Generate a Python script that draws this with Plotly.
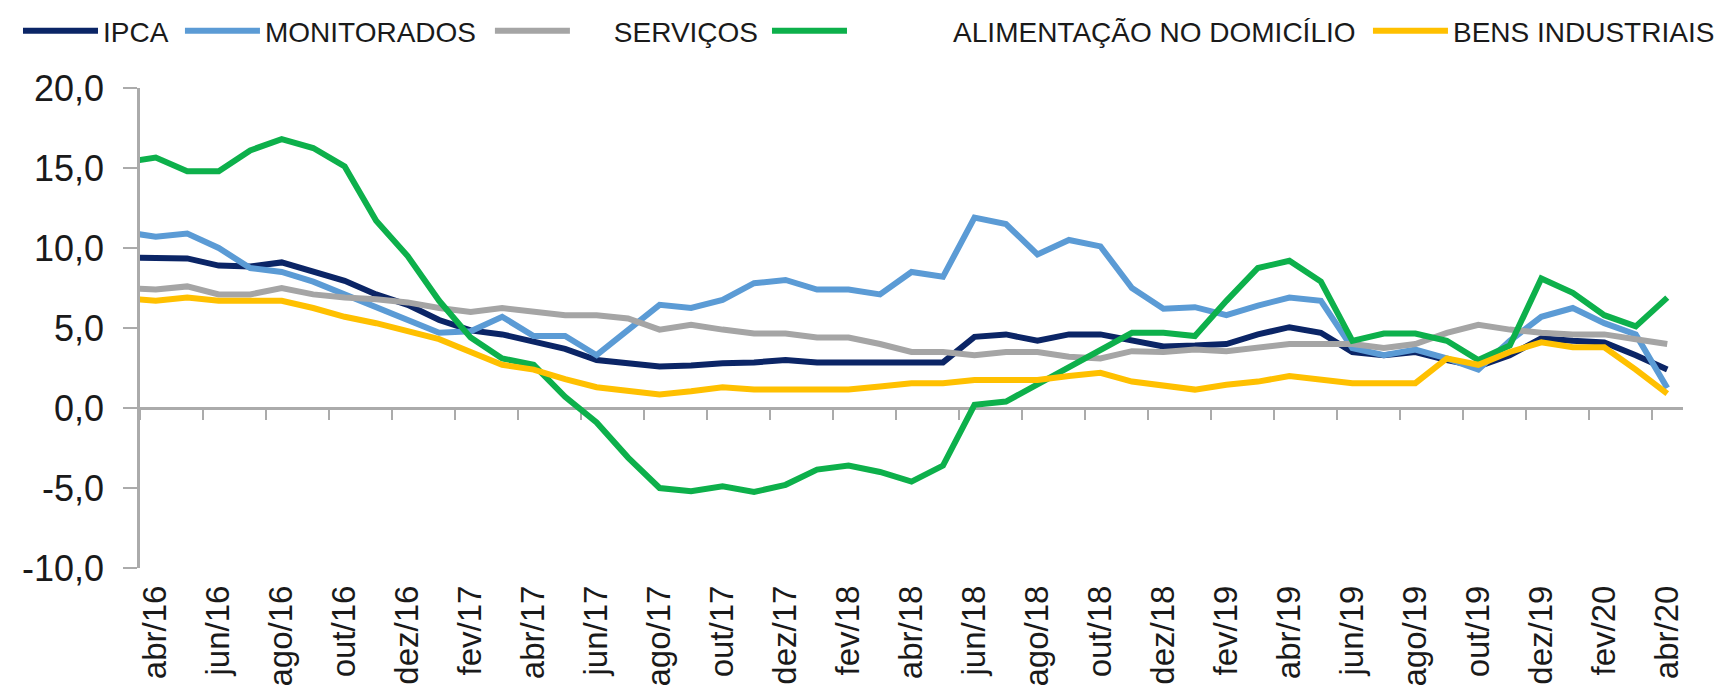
import plotly.graph_objects as go

# ---- data (12-month inflation, %) ----
meses = ["mar/16", "abr/16", "mai/16", "jun/16", "jul/16", "ago/16", "set/16", "out/16", "nov/16", "dez/16",
         "jan/17", "fev/17", "mar/17", "abr/17", "mai/17", "jun/17", "jul/17", "ago/17", "set/17", "out/17",
         "nov/17", "dez/17", "jan/18", "fev/18", "mar/18", "abr/18", "mai/18", "jun/18", "jul/18", "ago/18",
         "set/18", "out/18", "nov/18", "dez/18", "jan/19", "fev/19", "mar/19", "abr/19", "mai/19", "jun/19",
         "jul/19", "ago/19", "set/19", "out/19", "nov/19", "dez/19", "jan/20", "fev/20", "mar/20", "abr/20"]

ipca = [9.4, 9.35, 9.35, 8.9, 8.85, 9.1, 8.5, 7.95, 7.1, 6.45,
        5.5, 4.85, 4.6, 4.15, 3.7, 3.0, 2.8, 2.6, 2.65, 2.8,
        2.85, 3.0, 2.85, 2.85, 2.8, 2.85, 2.85, 4.45, 4.6, 4.2,
        4.6, 4.6, 4.2, 3.85, 3.9, 4.0, 4.6, 5.05, 4.7, 3.5,
        3.3, 3.5, 3.0, 2.6, 3.3, 4.35, 4.2, 4.1, 3.3, 2.4]

monitorados = [11.0, 10.7, 10.9, 10.0, 8.75, 8.5, 7.9, 7.1, 6.25, 5.5,
               4.7, 4.8, 5.7, 4.5, 4.5, 3.3, 4.9, 6.45, 6.25, 6.75,
               7.8, 8.0, 7.4, 7.4, 7.1, 8.5, 8.2, 11.9, 11.5, 9.6,
               10.5, 10.1, 7.5, 6.2, 6.3, 5.8, 6.4, 6.9, 6.7, 3.75,
               3.3, 3.65, 3.1, 2.4, 4.2, 5.7, 6.25, 5.3, 4.6, 1.25]

servicos = [7.5, 7.4, 7.6, 7.1, 7.1, 7.5, 7.1, 6.9, 6.8, 6.6,
            6.25, 6.0, 6.25, 6.0, 5.8, 5.8, 5.6, 4.9, 5.2, 4.9,
            4.65, 4.65, 4.4, 4.4, 4.0, 3.5, 3.5, 3.3, 3.5, 3.5,
            3.2, 3.1, 3.55, 3.5, 3.65, 3.55, 3.8, 4.0, 4.0, 4.0,
            3.75, 4.0, 4.7, 5.2, 4.9, 4.7, 4.6, 4.6, 4.3, 4.0]

alimentacao = [15.35, 15.65, 14.8, 14.8, 16.1, 16.8, 16.25, 15.1, 11.7, 9.5,
               6.7, 4.4, 3.1, 2.7, 0.7, -0.9, -3.1, -5.0, -5.2, -4.9,
               -5.25, -4.8, -3.85, -3.6, -4.0, -4.6, -3.6, 0.2, 0.4, 1.5,
               2.5, 3.6, 4.7, 4.7, 4.5, 6.7, 8.75, 9.2, 7.9, 4.2,
               4.65, 4.65, 4.2, 3.0, 3.9, 8.1, 7.2, 5.8, 5.1, 6.9]

bens_industriais = [6.85, 6.7, 6.9, 6.7, 6.7, 6.7, 6.25, 5.7, 5.3, 4.8,
                    4.3, 3.5, 2.7, 2.4, 1.8, 1.3, 1.05, 0.85, 1.05, 1.3,
                    1.15, 1.15, 1.15, 1.15, 1.35, 1.55, 1.55, 1.75, 1.75, 1.75,
                    2.0, 2.2, 1.65, 1.4, 1.15, 1.45, 1.65, 2.0, 1.75, 1.55,
                    1.55, 1.55, 3.1, 2.7, 3.5, 4.1, 3.8, 3.8, 2.4, 0.9]

series_names = ["IPCA", "MONITORADOS", "SERVIÇOS", "ALIMENTAÇÃO NO DOMICÍLIO", "BENS INDUSTRIAIS"]
series_values = [ipca, monitorados, servicos, alimentacao, bens_industriais]
series_colors = ["#0b2566", "#5b9bd5", "#a5a5a5", "#0db04b", "#ffc000"]

y_ticks = [-10, -5, 0, 5, 10, 15, 20]
y_tick_text = ["-10,0", "-5,0", "0,0", "5,0", "10,0", "15,0", "20,0"]

# ---- figure ----
FONT = "Liberation Sans, Arial, Helvetica, sans-serif"
AXIS_GRAY = "#ababab"
x_idx = list(range(len(meses)))
label_idx = x_idx[1::2]                      # abr/16, jun/16, ... abr/20
label_txt = [meses[i] for i in label_idx]
boundary_ticks = [i - 0.5 for i in label_idx]  # tick marks between categories

# legend placement (container fraction) and padding of label text
legend_x = [0.0058, 0.0998, 0.2797, 0.4405, 0.7893]
legend_pad = ["", "", "\u00a0" * 5, "\u00a0" * 13, ""]

fig = go.Figure()
for i, (name, vals, col) in enumerate(zip(series_names, series_values, series_colors)):
    lg = "legend" if i == 0 else f"legend{i+1}"
    fig.add_trace(go.Scatter(
        x=x_idx, y=vals, mode="lines", name=legend_pad[i] + name,
        line=dict(color=col, width=6), legend=lg, hoverinfo="skip"))

# helper trace for the category axis drawn at y = 0
fig.add_trace(go.Scatter(x=[x_idx[0]], y=[None], xaxis="x2", yaxis="y",
                         showlegend=False, hoverinfo="skip", mode="lines"))

xr = [x_idx[0] + 0.5, x_idx[-1] + 0.5]
layout = dict(
    width=1723, height=692,
    margin=dict(l=132, r=48, t=80, b=132),
    paper_bgcolor="white", plot_bgcolor="white",
    separators=",.",
    font=dict(family=FONT, color="#1a1a1a"),
    xaxis=dict(range=xr, tickmode="array", tickvals=label_idx, ticktext=label_txt,
               tickangle=-90, ticks="", showline=False, showgrid=False, zeroline=False,
               automargin=False,
               tickfont=dict(size=33, family=FONT, color="#1a1a1a"), ticklabelstandoff=10),
    xaxis2=dict(range=xr, overlaying="x", anchor="free", position=1 / 3, side="bottom",
                tickmode="array", tickvals=boundary_ticks, ticks="outside", ticklen=10,
                tickwidth=2, tickcolor=AXIS_GRAY, showticklabels=False, showline=True,
                linecolor=AXIS_GRAY, linewidth=2.5, showgrid=False, zeroline=False,
                automargin=False, layer="below traces"),
    yaxis=dict(range=[-10, 20], tickmode="array", tickvals=y_ticks, ticktext=y_tick_text,
               ticks="outside", ticklen=14, tickwidth=2, tickcolor=AXIS_GRAY,
               showline=True, linecolor=AXIS_GRAY, linewidth=2.5, showgrid=False,
               zeroline=False, automargin=False,
               tickfont=dict(size=36, family=FONT, color="#1a1a1a"),
               ticklabelstandoff=12),
)
for i in range(5):
    key = "legend" if i == 0 else f"legend{i+1}"
    layout[key] = dict(x=legend_x[i], y=1 - 23 / 692, xref="container", yref="container",
                       xanchor="left", yanchor="middle",
                       orientation="h", bgcolor="rgba(0,0,0,0)", itemwidth=75,
                       font=dict(size=28, family=FONT, color="#1a1a1a"),
                       itemclick=False, itemdoubleclick=False)
fig.update_layout(**layout)

fig.write_html("out.html")
